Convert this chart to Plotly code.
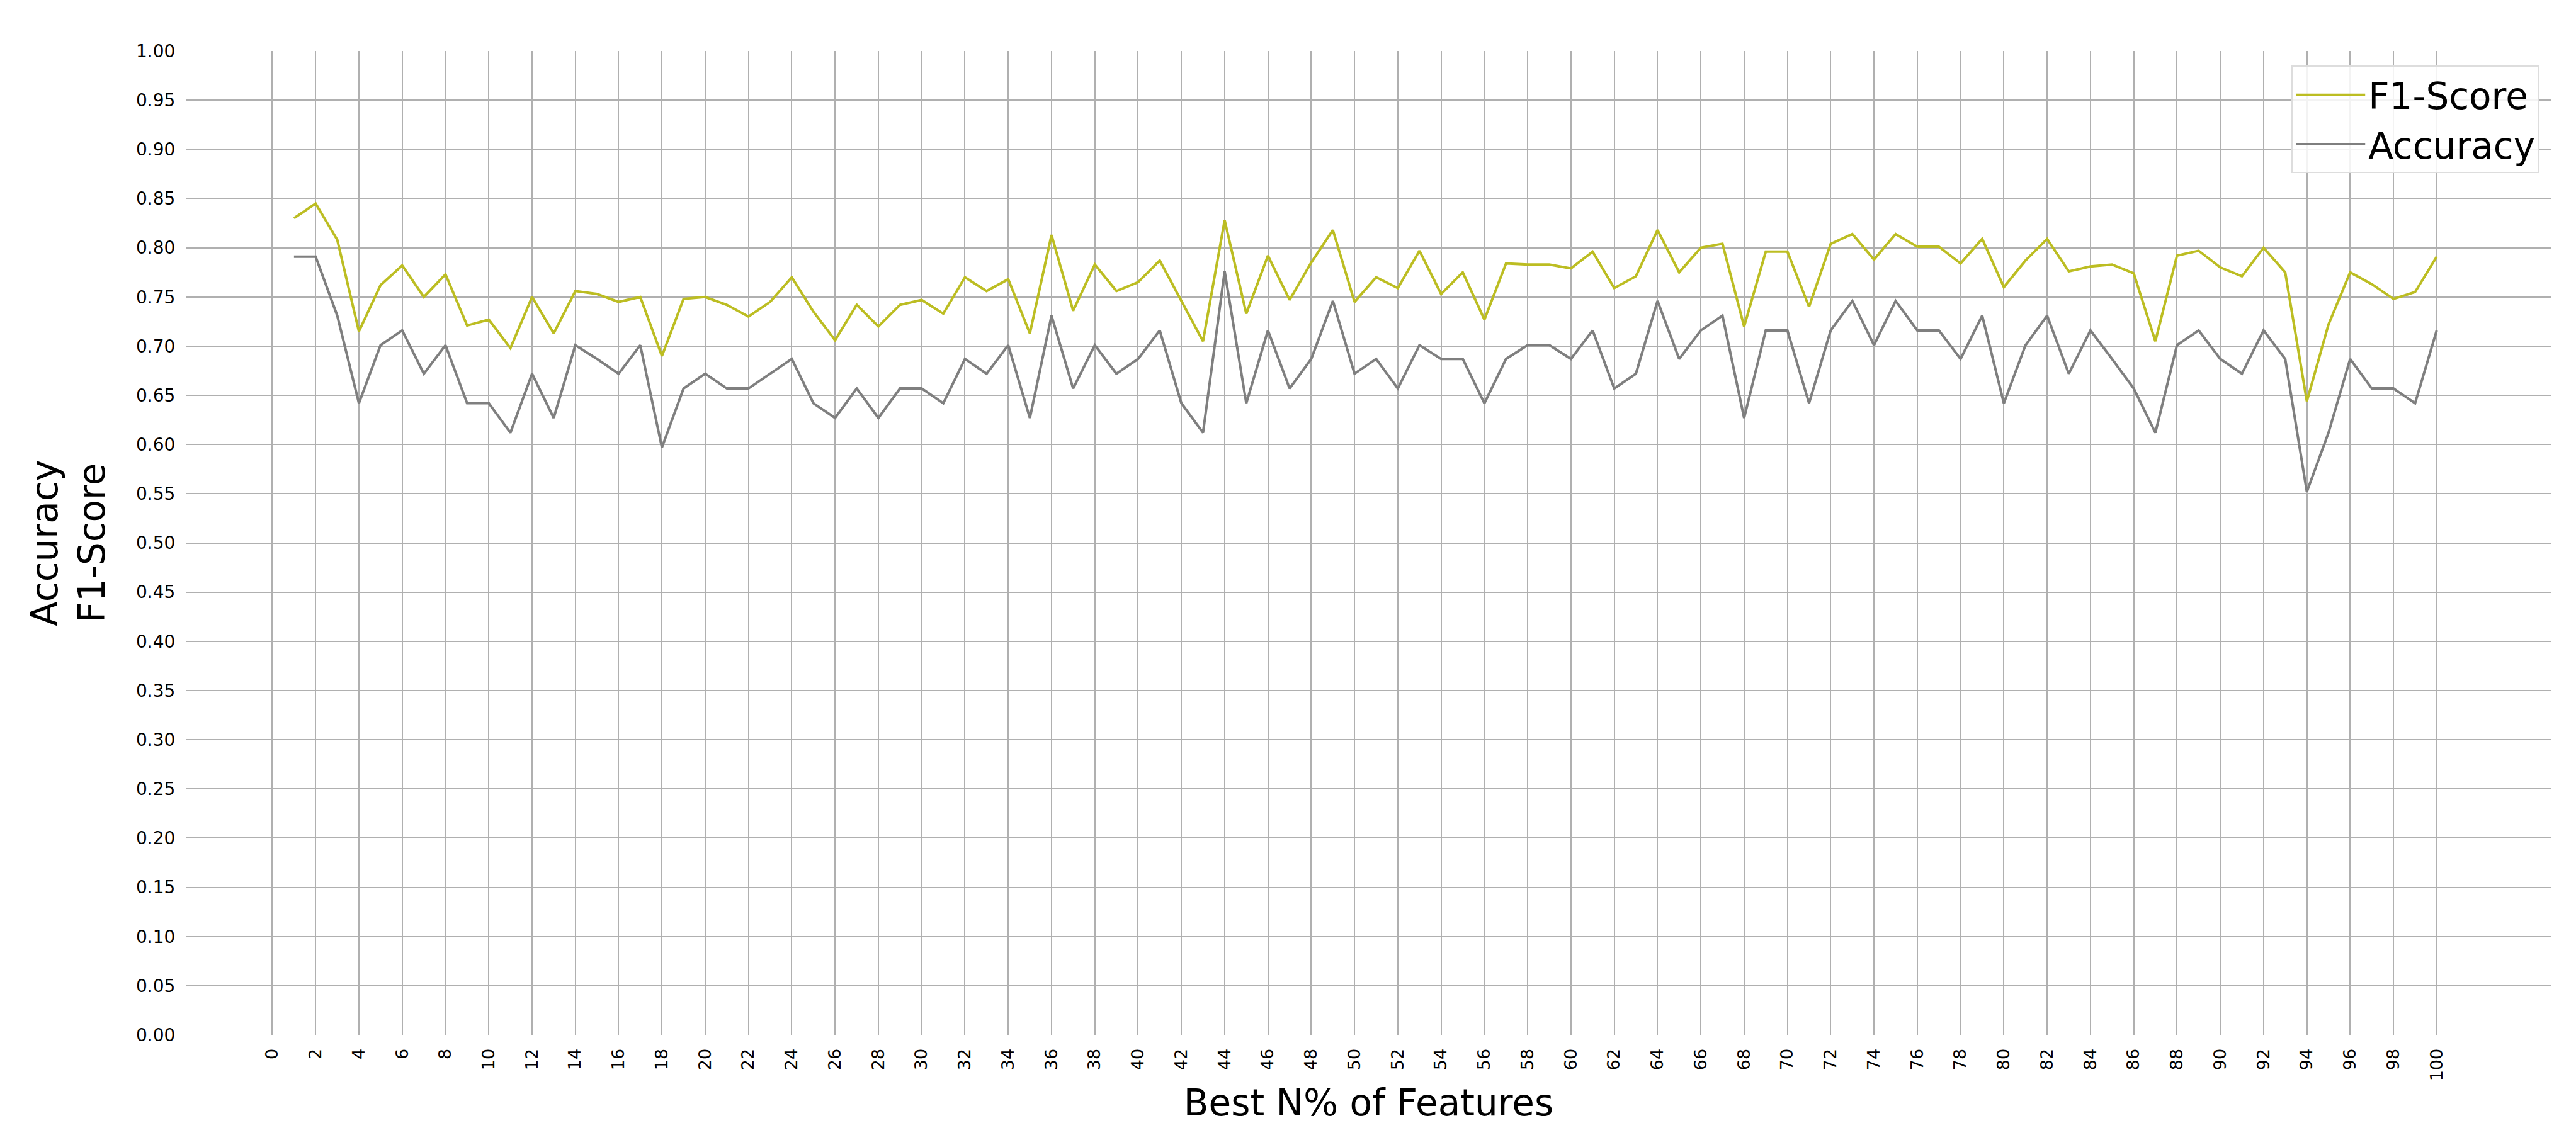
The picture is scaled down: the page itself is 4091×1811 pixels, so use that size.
import plotly.graph_objects as go

# ------------ Data ------------
n_pct = list(range(1, 101))

f1_score = [0.830, 0.845, 0.808, 0.715, 0.762, 0.782, 0.750, 0.773, 0.721, 0.727,
            0.698, 0.750, 0.713, 0.756, 0.753, 0.745, 0.750, 0.690, 0.748, 0.750,
            0.742, 0.730, 0.745, 0.770, 0.735, 0.706, 0.742, 0.720, 0.742, 0.747,
            0.733, 0.770, 0.756, 0.768, 0.713, 0.813, 0.736, 0.783, 0.756, 0.765,
            0.787, 0.746, 0.705, 0.828, 0.733, 0.792, 0.747, 0.785, 0.818, 0.745,
            0.770, 0.759, 0.797, 0.753, 0.775, 0.727, 0.784, 0.783, 0.783, 0.779,
            0.796, 0.759, 0.771, 0.818, 0.775, 0.800, 0.804, 0.720, 0.796, 0.796,
            0.740, 0.804, 0.814, 0.788, 0.814, 0.801, 0.801, 0.784, 0.809, 0.760,
            0.787, 0.809, 0.776, 0.781, 0.783, 0.774, 0.705, 0.792, 0.797, 0.780,
            0.771, 0.800, 0.775, 0.644, 0.722, 0.775, 0.763, 0.748, 0.755, 0.791]

accuracy = [0.791, 0.791, 0.731, 0.642, 0.701, 0.716, 0.672, 0.701, 0.642, 0.642,
            0.612, 0.672, 0.627, 0.701, 0.687, 0.672, 0.701, 0.597, 0.657, 0.672,
            0.657, 0.657, 0.672, 0.687, 0.642, 0.627, 0.657, 0.627, 0.657, 0.657,
            0.642, 0.687, 0.672, 0.701, 0.627, 0.731, 0.657, 0.701, 0.672, 0.687,
            0.716, 0.642, 0.612, 0.776, 0.642, 0.716, 0.657, 0.687, 0.746, 0.672,
            0.687, 0.657, 0.701, 0.687, 0.687, 0.642, 0.687, 0.701, 0.701, 0.687,
            0.716, 0.657, 0.672, 0.746, 0.687, 0.716, 0.731, 0.627, 0.716, 0.716,
            0.642, 0.716, 0.746, 0.701, 0.746, 0.716, 0.716, 0.687, 0.731, 0.642,
            0.701, 0.731, 0.672, 0.716, 0.687, 0.657, 0.612, 0.701, 0.716, 0.687,
            0.672, 0.716, 0.687, 0.552, 0.612, 0.687, 0.657, 0.657, 0.642, 0.716]

x_ticks = list(range(0, 101, 2))
y_ticks = [i / 100 for i in range(0, 101, 5)]

# ------------ Figure ------------
fig = go.Figure()
fig.add_trace(go.Scatter(x=n_pct, y=f1_score, mode='lines', name='F1-Score',
                         line=dict(color='#bcbd22', width=4)))
fig.add_trace(go.Scatter(x=n_pct, y=accuracy, mode='lines', name='Accuracy',
                         line=dict(color='#7f7f7f', width=4)))

grid = '#b0b0b0'
fig.update_xaxes(range=[-4.0, 105.3], tickvals=x_ticks, ticktext=[str(t) for t in x_ticks],
                 tickangle=-90, showgrid=True, gridcolor=grid, gridwidth=2, zeroline=False,
                 showline=False, ticks='outside', ticklen=10, tickcolor='white',
                 tickfont=dict(size=27, color='black'),
                 title=dict(text='Best N% of Features', font=dict(size=58, color='black')))
fig.update_yaxes(range=[0, 1.0], tickvals=y_ticks, ticktext=[f'{t:.2f}' for t in y_ticks],
                 showgrid=True, gridcolor=grid, gridwidth=2, zeroline=False, showline=False,
                 ticks='outside', ticklen=10, tickcolor='white',
                 tickfont=dict(size=28, color='black'),
                 title=dict(text='Accuracy<br>F1-Score', font=dict(size=58, color='black'),
                            standoff=30))

fig.update_layout(
    width=4091, height=1811,
    plot_bgcolor='white', paper_bgcolor='white',
    font=dict(family='DejaVu Sans'),
    margin=dict(l=287, r=47, t=73, b=175),
    legend=dict(x=0.995, y=0.985, xanchor='right', yanchor='top', itemwidth=110,
                bgcolor='rgba(255,255,255,0.85)', bordercolor='#dddddd', borderwidth=2,
                font=dict(size=58, color='black')),
)

fig.write_html("out.html")
